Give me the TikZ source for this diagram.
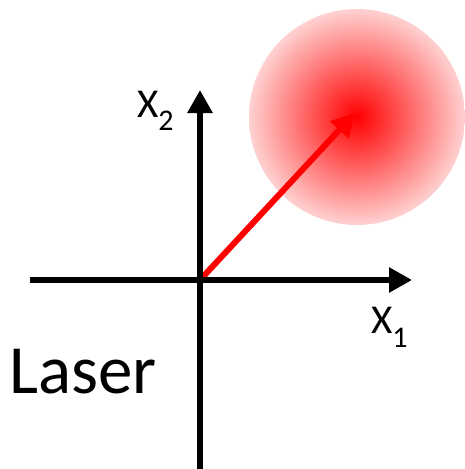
\documentclass[tikz,border=0pt]{standalone}
\usepackage{fontspec}
\setmainfont{Carlito}
\usetikzlibrary{arrows.meta}
\begin{document}
\begin{tikzpicture}[x=1pt,y=-1pt,
  axis/.style={line width=6pt,black,-{Triangle[length=23pt,width=24pt]}},
  beam/.style={line width=6pt,red,-{Triangle[length=23pt,width=24pt]}},
  lbl/.style={inner sep=0pt,anchor=base west}]
\useasboundingbox (0,0) rectangle (464,469);
\coordinate (spot) at (357,117);
\coordinate (origin) at (200,280);
\coordinate (xstart) at (30,280);
\coordinate (xend) at (412,280);
\coordinate (ybot) at (200,472);
\coordinate (ytop) at (200,90);
\coordinate (beamend) at (355,113);
\shade[inner color=red, outer color=red!18] (spot) circle (108);
\draw[beam] (origin) -- (beamend);
\draw[axis] (xstart) -- (xend);
\draw[axis] (ybot) -- (ytop);
\node[lbl] (x2) at (137,117) {\fontsize{41}{41}\selectfont X\raisebox{-13pt}{\fontsize{30}{30}\selectfont 2}};
\node[lbl] (x1) at (371,333) {\fontsize{41}{41}\selectfont X\raisebox{-14pt}{\fontsize{30}{30}\selectfont 1}};
\node[lbl] (laser) at (9,393) {\fontsize{69}{69}\selectfont Laser};
\end{tikzpicture}
\end{document}
